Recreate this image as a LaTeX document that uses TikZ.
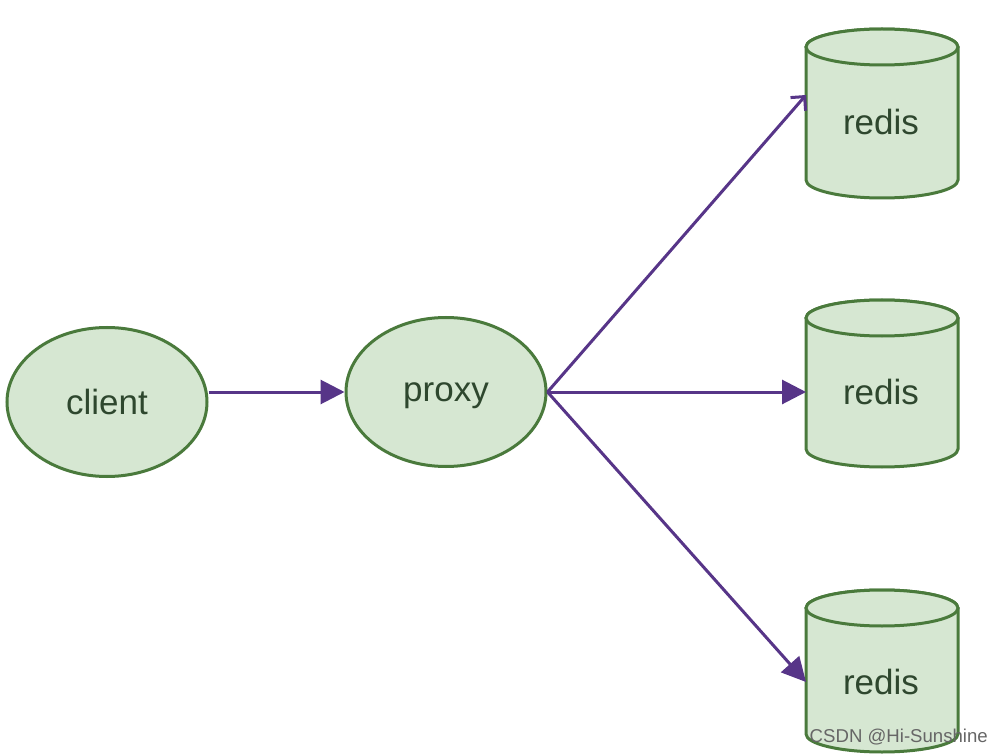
\documentclass[tikz,border=0pt]{standalone}
\usepackage{fontspec}
\setmainfont{Liberation Sans}
\usetikzlibrary{arrows.meta,shapes.geometric}
\definecolor{nodefill}{HTML}{D6E7D2}
\definecolor{nodeline}{HTML}{4A7A3C}
\definecolor{nodetext}{HTML}{2E472E}
\definecolor{arrowcol}{HTML}{573588}
\tikzset{
  shapeline/.style={draw=nodeline, fill=nodefill, line width=3pt},
  ellnode/.style={shapeline, ellipse, inner sep=0pt, minimum width=200pt, minimum height=149pt,
    text=nodetext, font=\fontsize{35}{40}\selectfont},
  label text/.style={text=nodetext, font=\fontsize{35}{40}\selectfont, inner sep=0pt},
  conn/.style={draw=arrowcol, line width=3pt, -{Triangle[length=24pt,width=24pt]}},
  connbarb/.style={draw=arrowcol, line width=3pt, -{Straight Barb[length=10pt,width=20pt,line width=3pt]}},
}
\newcommand\rediscyl[3]{%
  \draw[shapeline] (#1-76,#2+18) -- (#1-76,#3-18)
    arc[start angle=180,end angle=0,x radius=76,y radius=18]
    -- (#1+76,#2+18)
    arc[start angle=0,end angle=-180,x radius=76,y radius=18] -- cycle;
  \draw[shapeline] (#1,#2+18) ellipse[x radius=76,y radius=18];
}
\begin{document}
\begin{tikzpicture}[x=1pt,y=-1pt]
\useasboundingbox (0,0) rectangle (1002,754);
\fill[white] (0,0) rectangle (1002,754);
% cylinders
\rediscyl{882}{29}{198}
\rediscyl{882}{300}{467}
\rediscyl{882}{590}{752}
\node[label text] (r1) at (881,122) {redis};
\node[label text] (r2) at (881,392) {redis};
\node[label text] (r3) at (881,682) {redis};
\coordinate (c1) at (806,95);
\coordinate (c2) at (806,392);
\coordinate (c3) at (806,682);
% ellipses
\node[ellnode] (client) at (107,402) {client};
\node[ellnode, text depth=0pt] (proxy) at (446,392) {proxy};
% connectors
\draw[conn] (client.east |- proxy.east) -- (proxy.west);
\draw[connbarb] (proxy.east) -- (c1);
\draw[conn] (proxy.east) -- (c2);
\draw[conn] (proxy.east) -- (c3);
% watermark
\node[text=black!60, font=\fontsize{18.6}{20}\selectfont, anchor=east, inner sep=0pt] (wm) at (988,737) {CSDN @Hi-Sunshine};
\end{tikzpicture}
\end{document}
